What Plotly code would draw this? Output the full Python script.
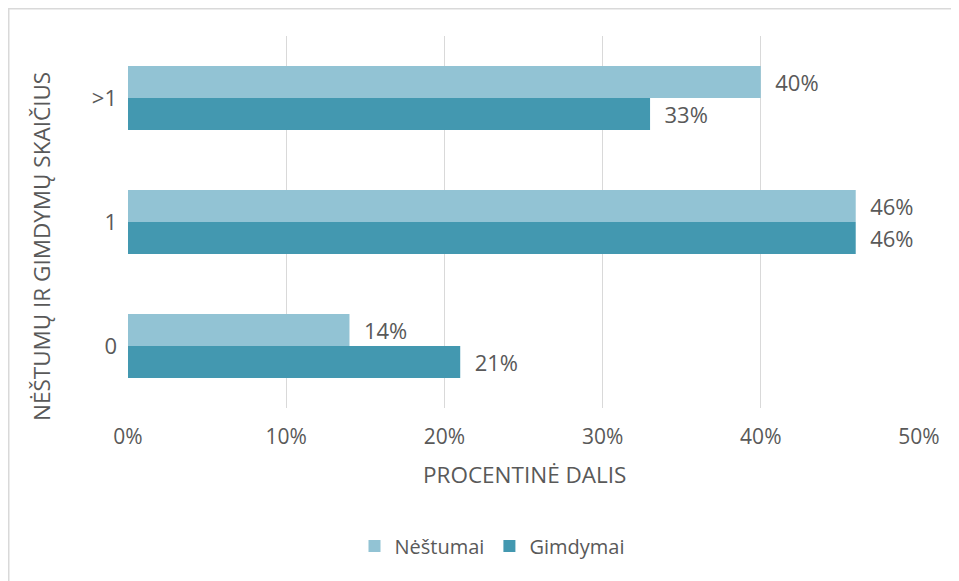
import plotly.graph_objects as go

categories = ["0", "1", ">1"]
nestumai = [0.14, 0.46, 0.40]
gimdymai = [0.21, 0.46, 0.33]
x_ticks = [0, 0.1, 0.2, 0.3, 0.4, 0.5]
x_tick_labels = ["0%", "10%", "20%", "30%", "40%", "50%"]

FONT = "Open Sans"
FS = 22
TXT = "#595959"
LIGHT = "#92C3D4"
DARK = "#4398B0"

# figure is placed by the page with an 8px body margin
W, H = 951, 573
L, R, T, B = 120, 40, 28, 173
PW, PH = W - L - R, H - T - B


def px(x):
    return (x - L) / PW


def py(y):
    return (H - B - y) / PH


lbl = "\u00a0\u00a0%{x:.0%}"

fig = go.Figure()
fig.add_trace(go.Bar(
    y=categories, x=gimdymai, orientation="h", name="Gimdymai",
    marker=dict(color=DARK, line=dict(width=0)),
    texttemplate=lbl, textposition="outside",
    textfont=dict(size=FS, color=TXT, family=FONT), cliponaxis=False,
))
fig.add_trace(go.Bar(
    y=categories, x=nestumai, orientation="h", name="Nėštumai",
    marker=dict(color=LIGHT, line=dict(width=0)),
    texttemplate=lbl, textposition="outside",
    textfont=dict(size=FS, color=TXT, family=FONT), cliponaxis=False,
))

fig.update_layout(
    width=W, height=H,
    margin=dict(l=L, r=R, t=T, b=B),
    paper_bgcolor="white", plot_bgcolor="white",
    barmode="group", bargap=0.484, bargroupgap=0,
    font=dict(family=FONT, size=FS, color=TXT),
    showlegend=True,
    legend=dict(orientation="h", traceorder="reversed", x=px(484), xanchor="center",
                y=py(538), yanchor="middle", font=dict(size=20, color=TXT),
                itemwidth=30),
    xaxis=dict(range=[0, 0.5], tickvals=x_ticks, ticktext=x_tick_labels,
               showgrid=True, gridcolor="#D9D9D9", gridwidth=1,
               zeroline=False, showline=False, ticks="", ticklabelstandoff=14,
               tickfont=dict(size=21, color=TXT)),
    yaxis=dict(type="category", categoryorder="array", categoryarray=categories,
               showgrid=False, zeroline=False, showline=False, ticks="",
               ticklabelstandoff=10, tickfont=dict(size=FS, color=TXT)),
    annotations=[
        dict(text="PROCENTINĖ DALIS", xref="paper", yref="paper", x=px(516.5), y=py(466),
             xanchor="center", yanchor="middle", showarrow=False,
             font=dict(size=22.5, color=TXT)),
        dict(text="NĖŠTUMŲ IR GIMDYMŲ SKAIČIUS", xref="paper", yref="paper",
             x=px(34), y=py(239), xanchor="center", yanchor="middle",
             textangle=-90, showarrow=False, font=dict(size=22.5, color=TXT)),
    ],
    shapes=[
        dict(type="line", xref="paper", yref="paper", x0=px(0), x1=px(0),
             y0=py(0), y1=py(H + 10), line=dict(color="#D9D9D9", width=3)),
        dict(type="line", xref="paper", yref="paper", x0=px(0), x1=px(W + 10),
             y0=py(0), y1=py(0), line=dict(color="#D9D9D9", width=3)),
    ],
)

fig.write_html("out.html")
